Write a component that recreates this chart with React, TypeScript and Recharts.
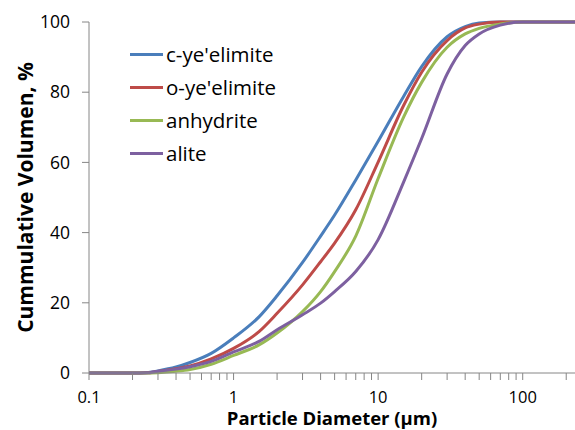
import React from 'react';
import { LineChart, Line, XAxis, YAxis } from 'recharts';

// particle diameters (µm) and cumulative volume (%)
const diameters = [0.1, 0.2, 0.25, 0.3, 0.4, 0.5, 0.7, 1, 1.5, 2, 3, 4, 5, 7, 10, 15, 20, 30, 40, 50, 70, 100, 200, 230];
const cYeelimite = [0, 0, 0.1, 0.6, 1.7, 3, 5.6, 10, 16, 22, 31.5, 39, 45, 55, 66, 78.8, 87.3, 95.8, 98.7, 99.7, 100, 100, 100, 100];
const oYeelimite = [0, 0, 0.05, 0.4, 1.2, 2, 4, 7, 11.8, 17, 25.1, 31.7, 37, 46.5, 60.1, 76.2, 85.7, 94.7, 98.3, 99.4, 100, 100, 100, 100];
const anhydrite = [0, 0, 0, 0.1, 0.5, 1, 2.5, 5, 8, 11.4, 17.5, 23.2, 28.9, 39, 55.4, 72.9, 82.8, 92.8, 96.6, 98.2, 99.4, 100, 100, 100];
const alite = [0, 0, 0.05, 0.5, 1.1, 1.8, 3.3, 6, 9, 12.3, 16.6, 19.9, 23.2, 28.9, 38, 54.4, 66.8, 85.2, 93.3, 96.6, 99.1, 100, 100, 100];

const seriesNames = ["c-ye'elimite", "o-ye'elimite", 'anhydrite', 'alite'];
const seriesColors = ['#4A7EBB', '#BE4B48', '#98B954', '#7D60A0'];

const xTicks = [0.1, 0.2, 0.3, 0.4, 0.5, 0.6, 0.7, 0.8, 0.9, 1, 2, 3, 4, 5, 6, 7, 8, 9, 10, 20, 30, 40, 50, 60, 70, 80, 90, 100, 200];
const xLabels = [0.1, 1, 10, 100];
const yTicks = [0, 20, 40, 60, 80, 100];

const data = diameters.map((d, i) => ({
  d,
  s0: cYeelimite[i],
  s1: oYeelimite[i],
  s2: anhydrite[i],
  s3: alite[i],
}));

const AXIS = '#868686';
const FONT = '"Open Sans", sans-serif';

// legend sits inside the plot, top-left, like the Excel original
function LegendBox() {
  return (
    <div style={{ position: 'absolute', left: 130, top: 38, fontFamily: FONT }}>
      {seriesNames.map((name, i) => (
        <div key={name} style={{ display: 'flex', alignItems: 'center', height: 33 }}>
          <div style={{ width: 33, height: 3, background: seriesColors[i] }} />
          <span style={{ marginLeft: 3, fontSize: 20.5, color: '#000', lineHeight: '33px' }}>{name}</span>
        </div>
      ))}
    </div>
  );
}

function YTitle(props: any) {
  const vb = props.viewBox;
  const cx = 25;
  const cy = vb.y + vb.height / 2;
  return (
    <text
      x={cx}
      y={cy}
      transform={`rotate(-90 ${cx} ${cy})`}
      textAnchor="middle"
      dominantBaseline="central"
      style={{ fontFamily: FONT, fontSize: 21, fontWeight: 700, fill: '#000' }}
    >
      Cummulative Volumen, %
    </text>
  );
}

function XTitle(props: any) {
  const vb = props.viewBox;
  return (
    <text
      x={vb.x + vb.width / 2}
      y={425}
      textAnchor="middle"
      style={{ fontFamily: FONT, fontSize: 18.5, fontWeight: 700, fill: '#000' }}
    >
      Particle Diameter (µm)
    </text>
  );
}

export default function App() {
  return (
    <div style={{ position: 'absolute', left: 0, top: 0, width: 575, height: 430, background: '#fff', fontFamily: FONT }}>
      <LineChart width={575} height={430} data={data} margin={{ top: 22, right: 0, bottom: 0, left: 0 }}>
        <XAxis
          dataKey="d"
          type="number"
          scale="log"
          domain={[0.1, 230]}
          allowDataOverflow
          ticks={xTicks}
          interval={0}
          tickFormatter={(v: number) => (xLabels.includes(v) ? String(v) : '')}
          stroke={AXIS}
          tickLine={{ stroke: AXIS }}
          tickSize={7}
          tickMargin={11}
          height={57}
          tick={{ fill: '#000', fontSize: 16.5, fontFamily: FONT }}
          label={<XTitle />}
        />
        <YAxis
          type="number"
          domain={[0, 100]}
          ticks={yTicks}
          interval={0}
          stroke={AXIS}
          tickLine={{ stroke: AXIS }}
          tickSize={7}
          tickMargin={12}
          width={89}
          tick={{ fill: '#000', fontSize: 17.5, fontFamily: FONT }}
          label={<YTitle />}
        />
        {seriesNames.map((name, i) => (
          <Line
            key={name}
            name={name}
            dataKey={`s${i}`}
            type="monotone"
            stroke={seriesColors[i]}
            strokeWidth={3}
            dot={false}
            activeDot={false}
            isAnimationActive={false}
          />
        ))}
      </LineChart>
      <LegendBox />
    </div>
  );
}
